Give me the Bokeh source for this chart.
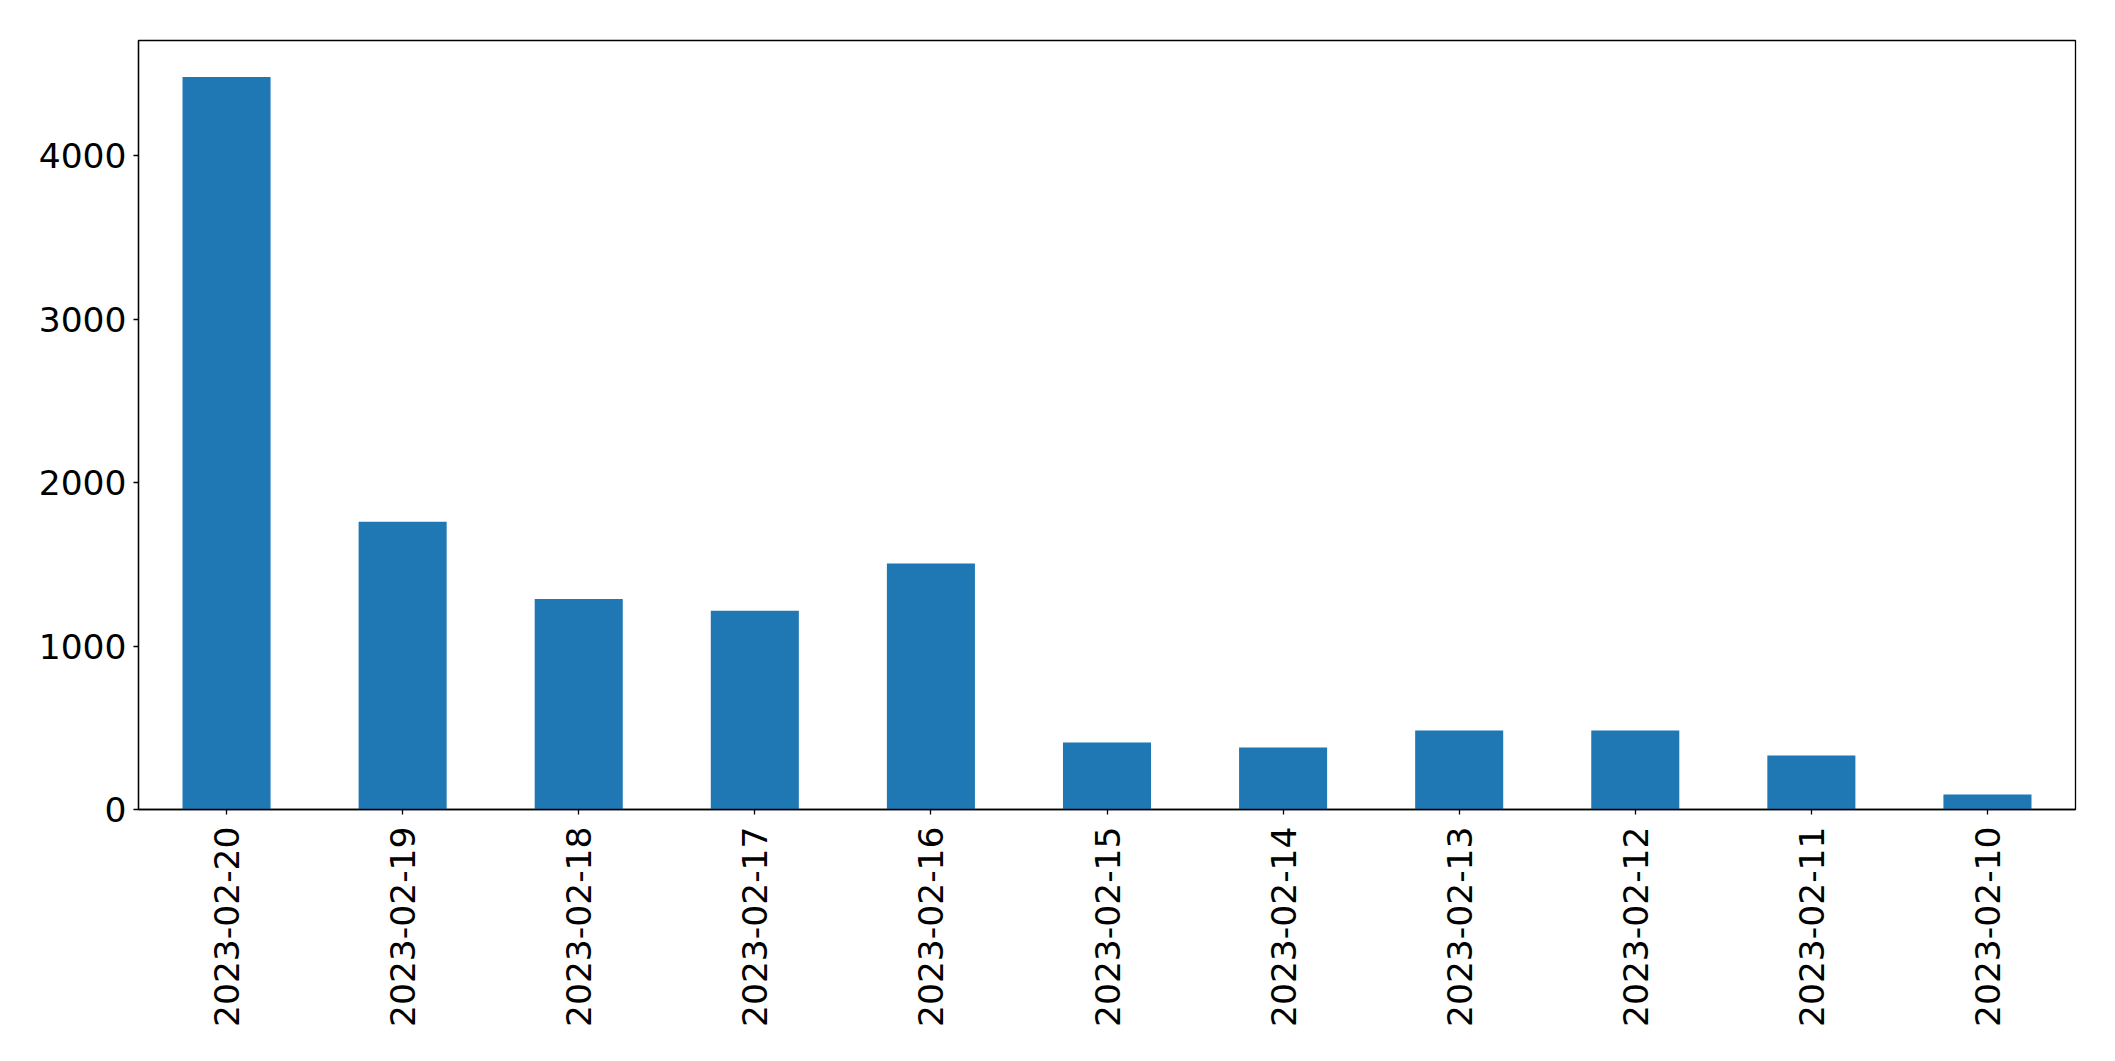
import math
from bokeh.plotting import figure
from bokeh.models import FactorRange, Range1d, FixedTicker, ColumnDataSource
from bokeh.embed import file_html
from bokeh.resources import INLINE

dates = ["2023-02-20", "2023-02-19", "2023-02-18", "2023-02-17", "2023-02-16",
         "2023-02-15", "2023-02-14", "2023-02-13", "2023-02-12", "2023-02-11",
         "2023-02-10"]
counts = [4482, 1761, 1288, 1217, 1505, 410, 380, 484, 484, 331, 92]
y_ticks = [0, 1000, 2000, 3000, 4000]

src = ColumnDataSource(data=dict(dates=dates, counts=counts))

p = figure(
    width=2107, height=1053,
    x_range=FactorRange(factors=dates),
    y_range=Range1d(0, max(counts) * 1.05),
    output_backend="svg", toolbar_location=None,
    min_border_left=138, min_border_right=32,
    min_border_top=40, min_border_bottom=244,
)

p.vbar(x="dates", top="counts", width=0.5, source=src,
       fill_color="#1f77b4", line_color=None)

p.xgrid.visible = False
p.ygrid.visible = False
p.outline_line_color = "black"
p.outline_line_width = 1.3
p.outline_line_alpha = 1.0
p.background_fill_color = "white"
p.border_fill_color = "white"

for ax in (p.xaxis[0], p.yaxis[0]):
    ax.axis_line_color = "black"
    ax.axis_line_width = 1.3
    ax.major_tick_line_color = "black"
    ax.major_tick_line_width = 1.3
    ax.major_tick_out = 5
    ax.major_tick_in = 0
    ax.minor_tick_line_color = None
    ax.major_label_text_font = "DejaVu Sans"
    ax.major_label_text_font_size = "34.5px"
    ax.major_label_text_color = "black"

p.yaxis[0].ticker = FixedTicker(ticks=y_ticks)
p.yaxis[0].major_label_standoff = 7
p.xaxis[0].major_label_orientation = math.pi / 2
p.xaxis[0].major_label_standoff = 12

open("out.html", "w").write(file_html(p, INLINE))
